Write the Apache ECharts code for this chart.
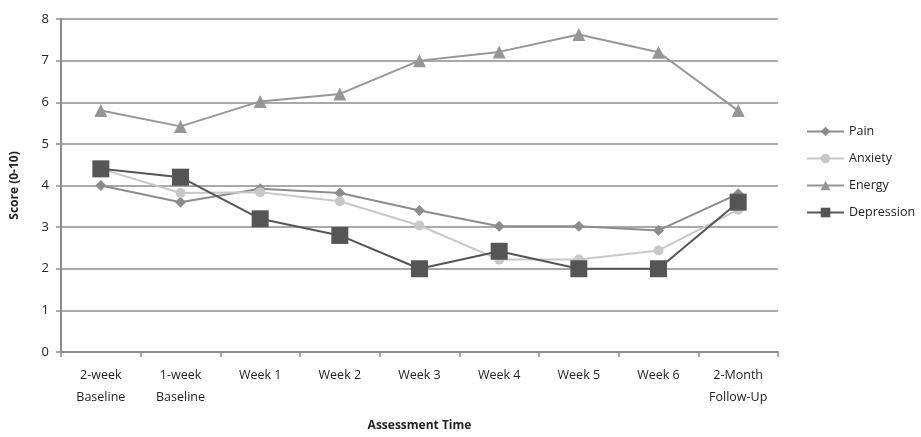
<!DOCTYPE html>
<html><head><meta charset="utf-8">
<script src="https://cdn.jsdelivr.net/npm/echarts@6/dist/echarts.min.js"></script>
<style>html,body{margin:0;padding:0;background:#fff}#c{width:921px;height:437px}</style>
</head><body><div id="c"></div>
<script>
const categories = ['2-week\nBaseline','1-week\nBaseline','Week 1','Week 2','Week 3','Week 4','Week 5','Week 6','2-Month\nFollow-Up'];
const pain = [4.0, 3.6, 3.92, 3.82, 3.4, 3.02, 3.02, 2.92, 3.8];
const anxiety = [4.4, 3.82, 3.84, 3.62, 3.04, 2.22, 2.22, 2.44, 3.42];
const energy = [5.8, 5.42, 6.02, 6.2, 7.0, 7.21, 7.63, 7.2, 5.8];
const depression = [4.4, 4.2, 3.2, 2.8, 2.0, 2.42, 2.0, 2.0, 3.6];
const yTicks = [0,1,2,3,4,5,6,7,8];

const font = '"Open Sans", "Liberation Sans", sans-serif';
const chart = echarts.init(document.getElementById('c'), null, {renderer:'canvas'});
function s(name, data, symbol, size, color, lw){
  return {name, type:'line', data, symbol, symbolSize:size, showSymbol:true,
    lineStyle:{color, width:lw}, itemStyle:{color}, emphasis:{disabled:true}, animation:false};
}
chart.setOption({
  animation:false,
  textStyle:{fontFamily:font},
  grid:{left:61, right:143, top:19, bottom:80, containLabel:false},
  xAxis:{type:'category', data:categories, boundaryGap:true,
    name:'Assessment Time', nameLocation:'middle', nameGap:68,
    nameTextStyle:{fontWeight:'bold', fontSize:12, color:'#222', fontFamily:font},
    axisLine:{lineStyle:{color:'#8c8c8c', width:2}},
    axisTick:{show:true, alignWithLabel:false, length:5, lineStyle:{color:'#8c8c8c', width:1.5}},
    axisLabel:{color:'#222', fontSize:12.5, lineHeight:22, margin:12, interval:0, fontFamily:font}
  },
  yAxis:{type:'value', min:0, max:8, interval:1,
    name:'Score (0-10)', nameLocation:'middle', nameGap:40, nameRotate:90,
    nameTextStyle:{fontWeight:'bold', fontSize:12, color:'#222', fontFamily:font},
    axisLine:{show:true, lineStyle:{color:'#8c8c8c', width:2}},
    axisTick:{show:true, length:5, lineStyle:{color:'#8c8c8c', width:1.5}},
    splitLine:{show:true, lineStyle:{color:'#8c8c8c', width:1.5}},
    axisLabel:{color:'#222', fontSize:13, margin:12, fontFamily:font,
      formatter:(v)=> yTicks.includes(v) ? String(v) : ''}
  },
  legend:{orient:'vertical', left:801, top:120, itemGap:14, itemWidth:37, itemHeight:12,
    textStyle:{color:'#222', fontSize:12.5, fontFamily:font},
    data:['Pain','Anxiety','Energy','Depression']},
  series:[
    s('Pain', pain, 'diamond', 11, '#8c8c8c', 2),
    s('Anxiety', anxiety, 'circle', 10, '#c8c8c8', 2),
    s('Energy', energy, 'triangle', 13, '#969696', 2),
    s('Depression', depression, 'rect', 17, '#555555', 2)
  ]
});
</script></body></html>
